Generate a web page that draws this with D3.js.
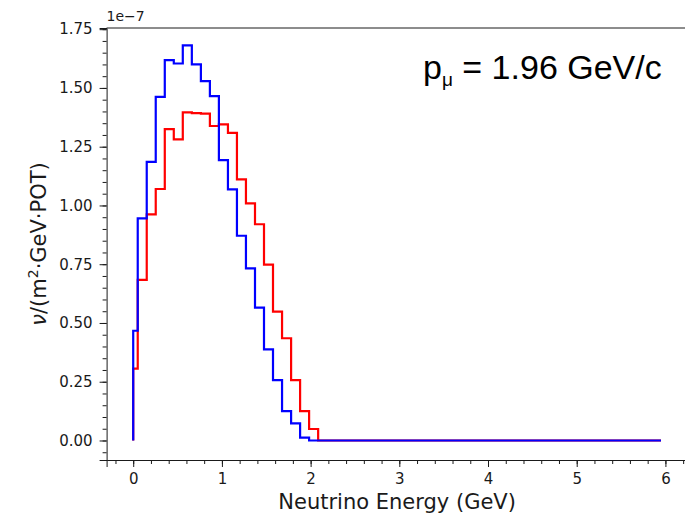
<!DOCTYPE html>
<html>
<head>
<meta charset="utf-8">
<script src="https://cdn.jsdelivr.net/npm/d3@7"></script>
<style>
  body { margin: 0; background: #fff; }
  svg { display: block; }
  text { font-family: "DejaVu Sans", sans-serif; fill: #1a1a1a; }
</style>
</head>
<body>
<div id="chart"></div>
<script>
// bin centres (GeV); first bin starts at 0, last point closes the zero tail
const energy = [0, 0.102, 0.203, 0.305, 0.407, 0.508, 0.610, 0.712, 0.814, 0.915,
    1.017, 1.119, 1.220, 1.322, 1.424, 1.525, 1.627, 1.729, 1.831, 1.932, 2.034, 2.136, 5.95];

// flux in units of 1e-7 / (m^2 GeV POT)
const blueFlux = [0.467, 0.945, 1.185, 1.462, 1.618, 1.604, 1.681, 1.600, 1.529, 1.465,
    1.193, 1.068, 0.871, 0.732, 0.565, 0.388, 0.257, 0.125, 0.073, 0.012, 0, 0, 0];
const redFlux = [0.306, 0.683, 0.962, 1.070, 1.325, 1.281, 1.396, 1.393, 1.391, 1.338,
    1.345, 1.309, 1.111, 1.009, 0.920, 0.748, 0.548, 0.435, 0.257, 0.125, 0.049, 0, 0];

const xTicks = [0, 1, 2, 3, 4, 5, 6];
const yTicks = [0, 0.25, 0.5, 0.75, 1.0, 1.25, 1.5, 1.75];

const width = 685, height = 519;
const plotLeft = 106.6, plotTop = 28, plotBottom = 460;
const plotRight = plotLeft + 6.55 * 88.7;

const svg = d3.select('#chart').append('svg')
    .attr('width', width)
    .attr('height', height);

const x = d3.scaleLinear().domain([-0.3, 6.25]).range([plotLeft, plotRight]);
const y = d3.scaleLinear().domain([-0.083, 1.755]).range([plotBottom, plotTop]);

// minor ticks first, then major axes on top
svg.append('g')
    .attr('transform', `translate(0,${plotBottom})`)
    .call(d3.axisBottom(x).tickValues(d3.range(-0.2, 6.3, 0.2)).tickSize(4).tickFormat(''))
    .call(g => g.select('.domain').remove());
svg.append('g')
    .attr('transform', `translate(${plotLeft},0)`)
    .call(d3.axisLeft(y).tickValues(d3.range(-0.05, 1.76, 0.05)).tickSize(4).tickFormat(''))
    .call(g => g.select('.domain').remove());

const xAxis = svg.append('g')
    .attr('transform', `translate(0,${plotBottom})`)
    .call(d3.axisBottom(x).tickValues(xTicks).tickSize(7).tickPadding(6).tickFormat(d3.format('d')));
const yAxis = svg.append('g')
    .attr('transform', `translate(${plotLeft},0)`)
    .call(d3.axisLeft(y).tickValues(yTicks).tickSize(7).tickPadding(7).tickFormat(d3.format('.2f')));

[xAxis, yAxis].forEach(g => {
    g.selectAll('text').style('font-size', '15px').style('font-family', '"DejaVu Sans", sans-serif');
});
svg.selectAll('.tick line, .domain').attr('stroke', '#1a1a1a');

// top spine (right spine falls outside the picture)
svg.append('line')
    .attr('x1', plotLeft).attr('x2', width)
    .attr('y1', plotTop).attr('y2', plotTop)
    .attr('stroke', '#1a1a1a');

const line = d3.line()
    .x(d => x(d[0]))
    .y(d => y(d[1]))
    .curve(d3.curveStepAfter);

function steps(values) {
    // step edges half way between centres, rising from zero at E = 0
    const pts = [[0, 0]];
    values.forEach((v, i) => {
        const e0 = i === 0 ? 0 : (energy[i - 1] + energy[i]) / 2;
        pts.push([e0, v]);
    });
    pts.push([energy[energy.length - 1], values[values.length - 1]]);
    return pts;
}

svg.append('path')
    .datum(steps(redFlux))
    .attr('fill', 'none')
    .attr('stroke', '#ff0000')
    .attr('stroke-width', 2.2)
    .attr('d', line);

svg.append('path')
    .datum(steps(blueFlux))
    .attr('fill', 'none')
    .attr('stroke', '#0000ff')
    .attr('stroke-width', 2.2)
    .attr('d', line);

// offset text
svg.append('text')
    .attr('x', plotLeft)
    .attr('y', 21)
    .style('font-size', '14px')
    .text('1e\u22127');

svg.append('text')
    .attr('x', (plotLeft + plotRight) / 2)
    .attr('y', 509)
    .attr('text-anchor', 'middle')
    .style('font-size', '21px')
    .text('Neutrino Energy (GeV)');

const yl = svg.append('text')
    .attr('transform', `translate(46,${(plotTop + plotBottom) / 2}) rotate(-90)`)
    .attr('text-anchor', 'middle')
    .style('font-size', '21px');
yl.append('tspan').style('font-style', 'italic').text('\u03bd');
yl.append('tspan').text('/(m');
yl.append('tspan').attr('dy', -8).style('font-size', '14px').text('2');
yl.append('tspan').attr('dy', 8).text('\u00b7GeV\u00b7POT)');

const ann = svg.append('text')
    .attr('x', 423)
    .attr('y', 79)
    .style('font-family', '"Liberation Sans", Arial, sans-serif')
    .style('font-size', '34px')
    .style('fill', '#000');
ann.append('tspan').text('p');
ann.append('tspan').attr('dy', 7).style('font-size', '19px').text('\u03bc');
ann.append('tspan').attr('dy', -7).text(' = 1.96 GeV/c');
</script>
</body>
</html>
